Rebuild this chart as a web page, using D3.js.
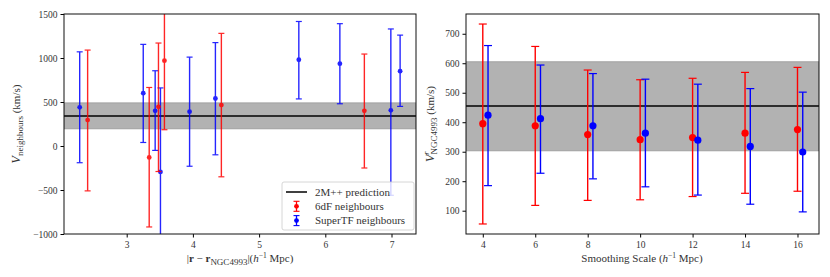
<!DOCTYPE html>
<meta charset="utf-8">
<head>
<script src="https://d3js.org/d3.v7.min.js"></script>
<style>
  body { margin: 0; background: #fff; font-family: 'Liberation Serif', 'DejaVu Serif', serif; }
  svg { display: block; }
  .tick text { font-size: 9.5px; fill: #333; font-family: 'Liberation Serif', serif; }
  .tick line { stroke: #000; }
  .domain { stroke: none; }
  text.label { font-size: 11px; fill: #333; }
  text.legend { font-size: 11px; fill: #333; }
</style>
</head>
<body>
<svg width="830" height="277"></svg>
<script>
// left panel: distance from NGC4993 vs neighbour velocity
const sixdfDist = [2.41, 3.34, 3.48, 3.57, 4.43, 6.59];
const sixdfVel = [295, -130, 445, 970, 465, 400];
const sixdfHi = [1090, 665, 1170, 1700, 1280, 1045];
const sixdfLo = [-510, -920, -290, 185, -350, -250];

const stfDist = [2.29, 3.25, 3.43, 3.51, 3.95, 4.34, 5.60, 6.22, 6.99, 7.13];
const stfVel = [440, 600, 400, -295, 390, 540, 980, 935, 405, 850];
const stfHi = [1070, 1155, 855, 660, 1010, 1175, 1415, 1390, 1330, 1260];
const stfLo = [-190, 40, -50, -1200, -230, -100, 535, 480, -560, 450];

const predLeft = 340, predLeftLo = 195, predLeftHi = 490;
const leftXTicks = [3, 4, 5, 6, 7];
const leftYTicks = [-1000, -500, 0, 500, 1000, 1500];

// right panel: smoothing scale
const scales = [4, 6, 8, 10, 12, 14, 16];
const sixdfScaleVel = [395, 388, 358, 341, 348, 363, 375];
const sixdfScaleHi = [733, 657, 577, 544, 549, 569, 586];
const sixdfScaleLo = [55, 118, 135, 137, 148, 159, 166];
const stfScaleVel = [424, 412, 388, 363, 339, 318, 299];
const stfScaleHi = [660, 594, 565, 546, 529, 514, 502];
const stfScaleLo = [185, 227, 208, 181, 153, 122, 96];
const stfOffset = 0.2;

const predRight = 455, predRightLo = 303, predRightHi = 605;
const rightXTicks = [4, 6, 8, 10, 12, 14, 16];
const rightYTicks = [100, 200, 300, 400, 500, 600, 700];

const RED = '#ff0000', BLUE = '#0000ff';
const svg = d3.select('svg');

function panel(opt) {
  const g = svg.append('g');
  const x = d3.scaleLinear().domain(opt.xDomain).range([opt.left, opt.right]);
  const y = d3.scaleLinear().domain(opt.yDomain).range([opt.bottom, opt.top]);

  g.append('defs').append('clipPath').attr('id', opt.id)
    .append('rect').attr('x', opt.left).attr('y', opt.top)
    .attr('width', opt.right - opt.left).attr('height', opt.bottom - opt.top);

  const plot = g.append('g').attr('clip-path', `url(#${opt.id})`);

  plot.append('rect')
    .attr('x', opt.left).attr('width', opt.right - opt.left)
    .attr('y', y(opt.band[1])).attr('height', y(opt.band[0]) - y(opt.band[1]))
    .attr('fill', '#b2b2b2').attr('stroke', '#999').attr('stroke-width', 0.8);

  plot.append('line')
    .attr('x1', opt.left).attr('x2', opt.right)
    .attr('y1', y(opt.pred)).attr('y2', y(opt.pred))
    .attr('stroke', '#000').attr('stroke-width', 1.5);

  opt.series.forEach(s => {
    const sg = plot.append('g').attr('opacity', s.opacity);
    s.xs.forEach((xv, i) => {
      const cx = x(xv);
      sg.append('line').attr('x1', cx).attr('x2', cx)
        .attr('y1', y(s.lo[i])).attr('y2', y(s.hi[i]))
        .attr('stroke', s.color).attr('stroke-width', 1.4);
      [s.lo[i], s.hi[i]].forEach(v => {
        sg.append('line').attr('x1', cx - opt.cap).attr('x2', cx + opt.cap)
          .attr('y1', y(v)).attr('y2', y(v))
          .attr('stroke', s.color).attr('stroke-width', 1.2);
      });
    });
    sg.selectAll('circle').data(s.xs).enter().append('circle')
      .attr('cx', d => x(d)).attr('cy', (d, i) => y(s.vals[i]))
      .attr('r', opt.r).attr('fill', s.color);
  });

  g.append('g').attr('transform', `translate(0,${opt.bottom})`)
    .call(d3.axisBottom(x).tickValues(opt.xTicks).tickSize(3.5).tickPadding(4)
      .tickFormat(d3.format('d')));
  g.append('g').attr('transform', `translate(${opt.left},0)`)
    .call(d3.axisLeft(y).tickValues(opt.yTicks).tickSize(3.5).tickPadding(3)
      .tickFormat(d => d < 0 ? '\u2212' + Math.abs(d) : d));

  g.append('rect')
    .attr('x', opt.left).attr('y', opt.top)
    .attr('width', opt.right - opt.left).attr('height', opt.bottom - opt.top)
    .attr('fill', 'none').attr('stroke', '#111').attr('stroke-width', 1);

  return {g, x, y};
}

const L = panel({
  id: 'clipL', left: 64, right: 416, top: 14, bottom: 234,
  xDomain: [2.053, 7.37], yDomain: [-1000, 1500],
  xTicks: leftXTicks, yTicks: leftYTicks,
  band: [predLeftLo, predLeftHi], pred: predLeft, r: 2.4, cap: 3,
  series: [
    {xs: stfDist, vals: stfVel, hi: stfHi, lo: stfLo, color: BLUE, opacity: 0.85},
    {xs: sixdfDist, vals: sixdfVel, hi: sixdfHi, lo: sixdfLo, color: RED, opacity: 0.85}
  ]
});

const R = panel({
  id: 'clipR', left: 466, right: 819, top: 14, bottom: 234,
  xDomain: [3.36, 16.82], yDomain: [21, 767],
  xTicks: rightXTicks, yTicks: rightYTicks,
  band: [predRightLo, predRightHi], pred: predRight, r: 3.6, cap: 4,
  series: [
    {xs: scales, vals: sixdfScaleVel, hi: sixdfScaleHi, lo: sixdfScaleLo, color: RED, opacity: 1},
    {xs: scales.map(d => d + stfOffset), vals: stfScaleVel, hi: stfScaleHi, lo: stfScaleLo, color: BLUE, opacity: 1}
  ]
});

// legend (left panel)
const lg = L.g.append('g').attr('transform', 'translate(282,182)');
lg.append('rect').attr('width', 132).attr('height', 48).attr('rx', 2)
  .attr('fill', '#fff').attr('fill-opacity', 0.8).attr('stroke', '#ccc').attr('stroke-width', 0.8);
const items = [
  {label: '2M++ prediction', type: 'line', color: '#000'},
  {label: '6dF neighbours', type: 'err', color: RED},
  {label: 'SuperTF neighbours', type: 'err', color: BLUE}
];
items.forEach((it, i) => {
  const yy = 10 + i * 14.3;
  if (it.type === 'line') {
    lg.append('line').attr('x1', 4).attr('x2', 25).attr('y1', yy).attr('y2', yy)
      .attr('stroke', it.color).attr('stroke-width', 1.5);
  } else {
    lg.append('line').attr('x1', 14.5).attr('x2', 14.5).attr('y1', yy - 5).attr('y2', yy + 5)
      .attr('stroke', it.color).attr('stroke-width', 1.3);
    [yy - 5, yy + 5].forEach(v => lg.append('line').attr('x1', 11.5).attr('x2', 17.5)
      .attr('y1', v).attr('y2', v).attr('stroke', it.color).attr('stroke-width', 1.1));
    lg.append('circle').attr('cx', 14.5).attr('cy', yy).attr('r', 2.4).attr('fill', it.color);
  }
  lg.append('text').attr('class', 'legend').attr('x', 33).attr('y', yy + 3.5).text(it.label);
});

// axis labels
const xl = svg.append('text').attr('class', 'label').attr('x', 240).attr('y', 262)
  .attr('text-anchor', 'middle');
xl.append('tspan').text('|');
xl.append('tspan').attr('font-weight', 'bold').text('r');
xl.append('tspan').text(' \u2212 ');
xl.append('tspan').attr('font-weight', 'bold').text('r');
xl.append('tspan').attr('font-size', '9px').attr('dy', 2.5).text('NGC4993');
xl.append('tspan').attr('dy', -2.5).text('|(');
xl.append('tspan').attr('font-style', 'italic').text('h');
xl.append('tspan').attr('font-size', '7.5px').attr('dy', -4).text('\u22121');
xl.append('tspan').attr('dy', 4).text(' Mpc)');

const xr = svg.append('text').attr('class', 'label').attr('x', 642).attr('y', 262)
  .attr('text-anchor', 'middle');
xr.append('tspan').text('Smoothing Scale (');
xr.append('tspan').attr('font-style', 'italic').text('h');
xr.append('tspan').attr('font-size', '7.5px').attr('dy', -4).text('\u22121');
xr.append('tspan').attr('dy', 4).text(' Mpc)');

const yl = svg.append('text').attr('class', 'label')
  .attr('transform', 'translate(20,124) rotate(-90)').attr('text-anchor', 'middle');
yl.append('tspan').attr('font-style', 'italic').attr('font-size', '12px').text('V');
yl.append('tspan').attr('font-size', '9px').attr('dy', 3).text('neighbours');
yl.append('tspan').attr('dy', -3).text(' (km/s)');

const yr = svg.append('text').attr('class', 'label')
  .attr('transform', 'translate(434,124) rotate(-90)').attr('text-anchor', 'middle');
yr.append('tspan').attr('font-style', 'italic').attr('font-size', '12px').text('V');
yr.append('tspan').attr('font-style', 'italic').attr('font-size', '8px').attr('dy', -5).text('r');
yr.append('tspan').attr('font-size', '9px').attr('dy', 8).attr('dx', -3).text('NGC4993');
yr.append('tspan').attr('dy', -3).text(' (km/s)');
</script>
</body>
